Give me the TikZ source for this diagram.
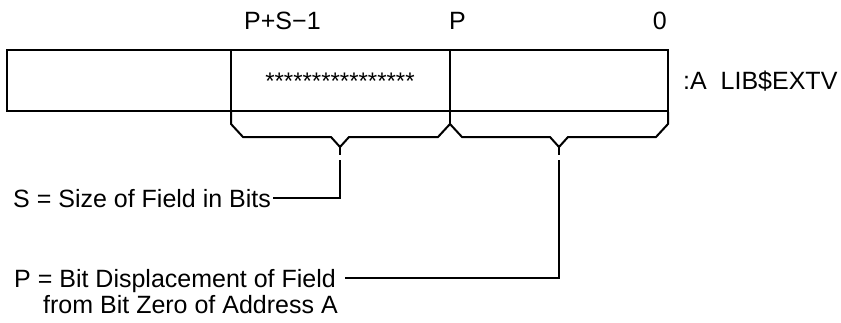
\documentclass[tikz,border=0pt]{standalone}
\usepackage{fontspec}
\setmainfont{Liberation Sans}
\usetikzlibrary{positioning}

\begin{document}
\begin{tikzpicture}[x=1pt,y=-1pt,
                    field/.style={line width=2.2pt},
                    brace/.style={line width=2pt,line join=miter},
                    leader/.style={line width=2pt},
                    bit label/.style={font=\fontsize{25}{29}\selectfont,inner sep=0pt},
                    note/.style={font=\fontsize{25}{29}\selectfont,inner sep=0pt}]
            \useasboundingbox (0,0) rectangle (841,322);

            \coordinate (field nw) at (7,50);
            \coordinate (field se) at (668,111);
            \coordinate (high bit) at (231,50);
            \coordinate (low bit) at (450,50);
            \coordinate (size tip) at (340,160);
            \coordinate (pos tip) at (559,160);

            % the longword and the extracted field
            \draw[field] (field nw) rectangle (field se);
            \draw[field] (high bit) -- (high bit |- field se);
            \draw[field] (low bit) -- (low bit |- field se);
            \node[bit label,font=\fontsize{24}{28}\selectfont] (stars) at (340,81) {****************};
            \node[bit label,anchor=west] (call) at (683,81) {:A\ \ LIB\$EXTV};

            \node[bit label,anchor=base west] (top bit) at (244,29) {P+S\textminus1};
            \node[bit label,anchor=base west] (pos bit) at (449,29) {P};
            \node[bit label,anchor=base east] (zero bit) at (667,29) {0};

            % braces under the field
            \draw[brace] (231,112) -- (231,124) -- (243,137) -- (331,137) -- (340,147) -- (349,137)
                         -- (438,137) -- (450,124) -- (462,137) -- (550,137) -- (559,147) -- (568,137)
                         -- (656,137) -- (668,124) -- (668,112);
            \draw[brace] (450,112) -- (450,124);
            \draw[brace] (340,147) -- (340,155);
            \draw[brace] (559,147) -- (559,155);

            \node[note,anchor=base west] (size) at (13,207) {S = Size of Field in Bits};
            \node[note,anchor=base west] (disp) at (14,287) {P = Bit Displacement of Field};
            \node[note,below left=3pt and -29pt of disp.south west,anchor=north west] (disp more) {from Bit Zero of Address A};

            \draw[leader] (size tip) |- ([xshift=2pt]size.east);
            \draw[leader] (pos tip) |- ([shift={(9,-9)}]disp.base east);
\end{tikzpicture}
\end{document}
